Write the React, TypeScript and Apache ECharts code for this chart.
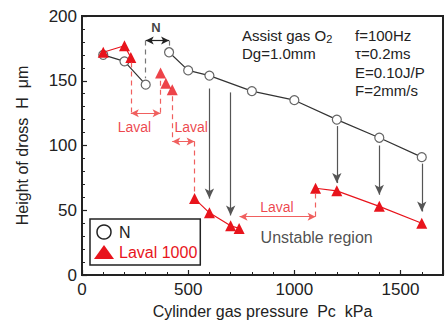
import React, { useEffect, useRef } from "react";
import * as echarts from "echarts";

const FONT = '"Liberation Sans", Arial, sans-serif';
const RED = "#e8141c";
const RED_LIGHT = "#f0605f";
const GRAY = "#555555";

// Tick labels
const xTicks = [0, 500, 1000, 1500];
const yTicks = [0, 50, 100, 150, 200];

// Series N (circles), split into two unconnected runs
const nLeftPressure = [100, 200, 300];
const nLeftHeight = [170, 165, 147];
const nRightPressure = [410, 500, 600, 800, 1000, 1200, 1400, 1600];
const nRightHeight = [172, 158, 154, 142, 135, 120, 106, 91];

// Series Laval 1000 (triangles)
const lavalAPressure = [100, 200, 230];
const lavalAHeight = [172, 177, 168];
const lavalBPressure = [370, 395, 425];
const lavalBHeight = [156, 148, 143];
const lavalCPressure = [530, 600, 700, 740];
const lavalCHeight = [59, 48, 38, 36];
const lavalDPressure = [1100, 1200, 1400, 1600];
const lavalDHeight = [67, 65, 53, 40];

// Annotations (data coordinates)
const dropArrowX = [600, 700, 1200, 1400, 1600];
const dropArrowFrom = [144, 141, 115, 100, 86];
const dropArrowTo = [59, 46, 71, 62, 49];

const lavalSpanFrom = [230, 425, 742];
const lavalSpanTo = [370, 530, 1100];
const lavalSpanY = [125, 103, 45];

const redDashX = [230, 370, 425, 530, 1100];
const redDashFrom = [164, 150, 138, 103, 63];
const redDashTo = [125, 125, 103, 62, 45];

const nSpanFrom = 300;
const nSpanTo = 410;
const nSpanY = 181;
const grayDashX = [300, 410];
const grayDashTo = [152, 177];

const noteNames = ["Laval", "Laval", "Laval", "Unstable region", "N"];
const noteX = [247, 514, 918, 1105, 348];
const noteY = [114.5, 114.5, 52.5, 28.6, 191];

const zip = (xs: number[], ys: number[]) => xs.map((x, i) => [x, ys[i]]);

export default function App() {
  const ref = useRef<HTMLDivElement>(null);
  useEffect(() => {
    if (!ref.current) return;
    const chart = echarts.init(ref.current, undefined, { renderer: "svg" });

    const nStyle = {
      type: "line" as const,
      name: "N",
      symbol: "circle",
      symbolSize: 9,
      itemStyle: { color: "#ffffff", borderColor: "#666666", borderWidth: 1.2 },
      lineStyle: { color: "#333333", width: 1.2 },
      z: 3,
    };
    const lStyle = {
      name: "Laval 1000",
      symbol: "triangle",
      symbolSize: 11,
      itemStyle: { color: RED },
      lineStyle: { color: RED, width: 1.2 },
      z: 4,
    };

    const noteColors = [RED, RED, RED, "#222222", "#111111"];
    const noteSizes = [14, 14, 14, 16, 13];

    chart.setOption({
      animation: false,
      grid: {
        left: 82,
        right: 4,
        top: 16,
        bottom: 52,
        show: true,
        borderColor: "#222222",
        borderWidth: 2,
      },
      xAxis: {
        type: "value",
        min: 0,
        max: 1700,
        interval: 500,
        name: "Cylinder gas pressure  Pc  kPa",
        nameLocation: "middle",
        nameGap: 28,
        nameTextStyle: { fontFamily: FONT, fontSize: 16, color: "#222" },
        axisLine: { show: true, lineStyle: { color: "#222", width: 2 } },
        axisTick: { show: true, inside: true, length: 5, lineStyle: { color: "#222", width: 1.2 } },
        minorTick: { show: true, splitNumber: 5, length: 3, lineStyle: { color: "#222", width: 1 } },
        axisLabel: {
          fontFamily: FONT,
          fontSize: 17,
          color: "#222",
          margin: 6,
          showMaxLabel: false,
          formatter: (v: number) => (xTicks.includes(v) ? String(v) : ""),
        },
        splitLine: { show: false },
      },
      yAxis: {
        type: "value",
        min: 0,
        max: 200,
        interval: 50,
        name: "Height of dross  H  μm",
        nameLocation: "middle",
        nameGap: 52,
        nameRotate: 90,
        nameTextStyle: { fontFamily: FONT, fontSize: 16, color: "#222" },
        axisLine: { show: true, lineStyle: { color: "#222", width: 2 } },
        axisTick: { show: true, inside: true, length: 5, lineStyle: { color: "#222", width: 1.2 } },
        minorTick: { show: true, splitNumber: 5, length: 3, lineStyle: { color: "#222", width: 1 } },
        axisLabel: {
          fontFamily: FONT,
          fontSize: 17,
          color: "#222",
          margin: 5,
          formatter: (v: number) => (yTicks.includes(v) ? String(v) : ""),
        },
        splitLine: { show: false },
      },
      legend: {
        orient: "vertical",
        left: 90,
        top: 219,
        padding: [5, 3, 5, 4],
        itemGap: 4,
        itemWidth: 20,
        itemHeight: 14,
        borderColor: "#222",
        borderWidth: 1.5,
        backgroundColor: "#fff",
        textStyle: { fontFamily: FONT, fontSize: 16, color: "#222" },
        data: [
          {
            name: "N",
            icon: "circle",
            itemStyle: { color: "#fff", borderColor: "#222", borderWidth: 1.5 },
            textStyle: { color: "#222" },
          },
          {
            name: "Laval 1000",
            icon: "triangle",
            itemStyle: { color: RED },
            textStyle: { color: RED },
          },
        ],
      },
      graphic: [
        {
          type: "text",
          left: 242,
          top: 26,
          style: {
            text: "Assist gas O{sub|2}\nDg=1.0mm",
            fontFamily: FONT,
            fontSize: 15,
            lineHeight: 18.5,
            fill: "#222",
            rich: {
              sub: { fontFamily: FONT, fontSize: 11, verticalAlign: "bottom", padding: [6, 0, 0, 0], fill: "#222" },
            },
          },
        },
        {
          type: "text",
          left: 355,
          top: 26,
          style: {
            text: "f=100Hz\nτ=0.2ms\nE=0.10J/P\nF=2mm/s",
            fontFamily: FONT,
            fontSize: 15,
            lineHeight: 18.5,
            fill: "#222",
          },
        },
      ],
      series: [
        { ...nStyle, data: zip(nLeftPressure, nLeftHeight) },
        { ...nStyle, data: zip(nRightPressure, nRightHeight) },
        { ...lStyle, type: "line", data: zip(lavalAPressure, lavalAHeight) },
        { ...lStyle, type: "scatter", data: zip(lavalBPressure, lavalBHeight) },
        { ...lStyle, type: "line", data: zip(lavalCPressure, lavalCHeight) },
        { ...lStyle, type: "line", data: zip(lavalDPressure, lavalDHeight) },
        {
          type: "line",
          name: "dropArrows",
          data: [],
          markLine: {
            silent: true,
            symbol: ["none", "arrow"],
            symbolSize: [7, 10],
            label: { show: false },
            lineStyle: { color: GRAY, width: 1.2, type: "solid" },
            data: dropArrowX.map((x, i) => [
              { coord: [x, dropArrowFrom[i]] },
              { coord: [x, dropArrowTo[i]] },
            ]),
          },
        },
        {
          type: "line",
          name: "lavalSpans",
          data: [],
          markLine: {
            silent: true,
            symbol: ["arrow", "arrow"],
            symbolSize: [6, 8],
            label: { show: false },
            lineStyle: { color: RED_LIGHT, width: 1, type: "solid" },
            data: lavalSpanFrom.map((x, i) => [
              { coord: [x, lavalSpanY[i]] },
              { coord: [lavalSpanTo[i], lavalSpanY[i]] },
            ]),
          },
        },
        {
          type: "line",
          name: "redDash",
          data: [],
          markLine: {
            silent: true,
            symbol: ["none", "none"],
            label: { show: false },
            lineStyle: { color: RED_LIGHT, width: 1.2, type: [5, 4] },
            data: redDashX.map((x, i) => [
              { coord: [x, redDashFrom[i]] },
              { coord: [x, redDashTo[i]] },
            ]),
          },
        },
        {
          type: "line",
          name: "nSpan",
          data: [],
          markLine: {
            silent: true,
            symbol: ["arrow", "arrow"],
            symbolSize: [6, 8],
            label: { show: false },
            lineStyle: { color: "#222", width: 1.2, type: "solid" },
            data: [[{ coord: [nSpanFrom, nSpanY] }, { coord: [nSpanTo, nSpanY] }]],
          },
        },
        {
          type: "line",
          name: "grayDash",
          data: [],
          markLine: {
            silent: true,
            symbol: ["none", "none"],
            label: { show: false },
            lineStyle: { color: "#777", width: 1.2, type: [5, 4] },
            data: grayDashX.map((x, i) => [
              { coord: [x, nSpanY] },
              { coord: [x, grayDashTo[i]] },
            ]),
          },
        },
        {
          type: "scatter",
          name: "notes",
          symbolSize: 0,
          silent: true,
          z: 6,
          data: noteNames.map((n, i) => ({
            name: n,
            value: [noteX[i], noteY[i]],
            label: {
              show: true,
              position: "inside",
              formatter: "{b}",
              fontFamily: FONT,
              fontSize: noteSizes[i],
              fontWeight: i === 4 ? "bold" : "normal",
              color: noteColors[i],
            },
          })),
        },
      ],
    });
    return () => chart.dispose();
  }, []);
  return (
    <div
      ref={ref}
      style={{ position: "fixed", left: 0, top: 0, width: 447, height: 327, background: "#fff" }}
    />
  );
}
